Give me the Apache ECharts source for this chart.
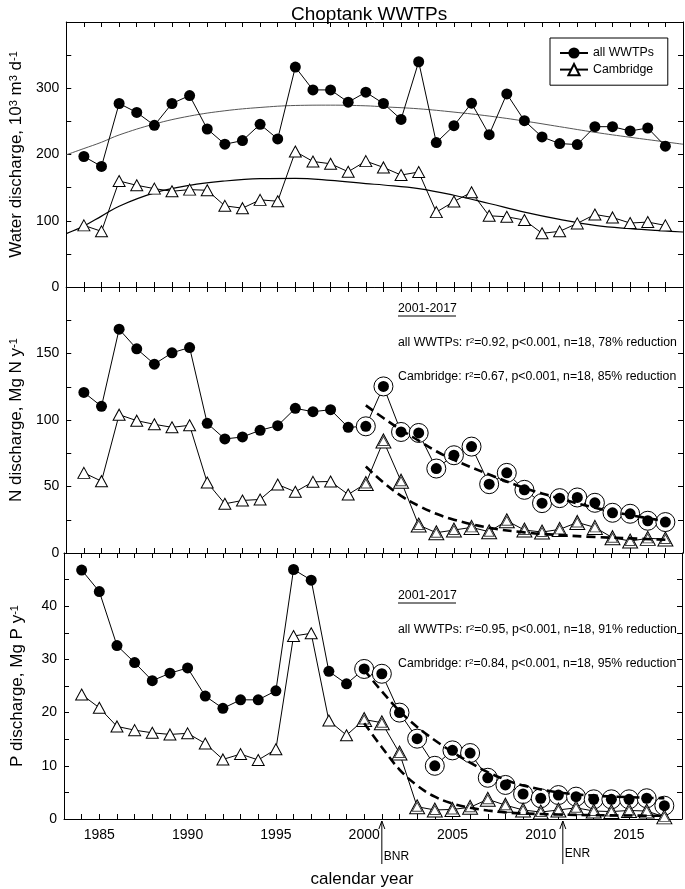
<!DOCTYPE html>
<html><head><meta charset="utf-8">
<script src="https://cdn.jsdelivr.net/npm/echarts@6/dist/echarts.min.js"></script>
<style>html,body{margin:0;padding:0;background:#fff}#c{width:685px;height:889px}</style>
</head><body><div id="c"></div>
<script>
// ---------------- data ----------------
const years = [1984,1985,1986,1987,1988,1989,1990,1991,1992,1993,1994,1995,1996,1997,1998,1999,2000,
               2001,2002,2003,2004,2005,2006,2007,2008,2009,2010,2011,2012,2013,2014,2015,2016,2017];
// Water discharge, 10^3 m3 d-1
const flowAll = [197,182,277,263.5,244,277,289,238.5,215.5,221,245.5,223.5,332,297.5,297.5,279,294,
                 277,253,340,218,243.5,277.5,230,291.5,251,226.5,216.5,215,242,242,235.5,240,212.5];
const flowCam = [93,84,160,153.5,148.5,144.5,147,146,122.5,119,131.5,129.5,204.5,189.5,186,174,190,
                 180.5,169,173.5,113,129,143,107.5,106,101,81,84,96,109.5,105,96.5,98,93];
// N discharge, Mg N y-1
const nAll = [120.75,110.25,168.25,153.5,142,150.5,154.5,97.5,85.75,87.25,92.25,95.75,108.75,106.25,107.75,94.5,95.25,
              125.25,91,90.25,63.5,73.5,80,51.75,60.25,47.5,37.5,41.25,41.75,37.75,30.25,29.5,24.25,23.25];
const nCam = [60.25,54,104,99.5,96.75,94.5,96,53,37,39.5,40.25,51.5,46,53.5,53.75,44,52.25,
              84.25,54,21,15.25,17.25,19.25,16,24.25,17.25,15.75,17.75,23,19.25,11.5,9,11,10.5];
// P discharge, Mg P y-1
const pAll = [46.8,42.75,32.6,29.4,26,27.4,28.4,23.1,20.8,22.4,22.4,24.1,46.9,44.9,27.75,25.4,28.2,
              27.3,20,15.1,10,12.9,12.4,7.75,6.4,4.7,3.9,4.5,4.2,3.7,3.7,3.7,3.9,2.5];
const pCam = [23.4,20.9,17.4,16.7,16.2,15.9,16.1,14.2,11.2,12.2,11.1,13.1,34.4,34.9,18.5,15.75,18.7,
              18.1,12.4,2.3,1.7,1.8,2.2,3.7,2.6,1.7,1.3,1.7,2.1,1.5,1.4,1.6,1.5,0.4];
// smoothed trend curves (top panel)
const flowFitYears = [1983,1984,1985,1986,1988,1990,1992,1994,1996,1998,2000,2001,2003,2005,2007,2009,2011,2013,2015,2017,2018];
const flowFitAll = [199.5,209,218.5,229.5,246,258,266,271,274,274.5,273.5,272,269,264,258,250.5,242,233.5,226,219,215.5];
const flowFitCam = [80.5,92,107,122,142,153.5,160,163.5,164,161,156,154,148.5,138.5,126,113,102,93,88,84.5,83];
// fitted decay curves 2000-2017
const nFitYears = [2000,2001,2002,2003,2004,2005,2007,2009,2011,2013,2015,2017];
const nFitAll = [111,101.5,92.5,84.5,76.5,70,59,49,41,34,28.5,24];
const nFitCam = [65,53,43,35.5,29.5,25,19,15.5,13.5,12,11,10];
const pFitYears = [2000,2001,2002,2003,2004,2005,2006,2007,2008,2009,2011,2013,2015,2017];
const pFitAll = [28,24,20.3,17.3,14.8,12.6,10.6,8.8,7.4,6.3,5,4.4,4.1,3.9];
const pFitCam = [18,13.5,9.3,6.3,4.2,2.9,2.1,1.6,1.25,1.05,0.85,0.72,0.65,0.6];
const fitStartYear = 2000;
const arrowYears = [2001, 2011.25];
const arrowLabels = ['BNR', 'ENR'];
const xTickLabels = [1985,1990,1995,2000,2005,2010,2015];
const legendNames = ['all WWTPs', 'Cambridge'];
const statsN = ['2001-2017', ['all WWTPs: r','2','=0.92, p<0.001, n=18, 78% reduction'], ['Cambridge: r','2','=0.67, p<0.001, n=18, 85% reduction']];
const statsP = ['2001-2017', ['all WWTPs: r','2','=0.95, p<0.001, n=18, 91% reduction'], ['Cambridge: r','2','=0.84, p<0.001, n=18, 95% reduction']];

// ---------------- chart ----------------
const FONT = '"Liberation Sans", Arial, Helvetica, sans-serif';
const pair = (xs, vs) => xs.map((x, i) => [x, vs[i]]);
const fromStart = (vs) => pair(years, vs).filter(d => d[0] >= fitStartYear);

const grids = [
  {left: 64, right: 2, top: 22, height: 265},
  {left: 64, right: 2, top: 287, height: 266},
  {left: 64, right: 2, top: 553, height: 266}
];
const yCfg = [
  {max: 400, step: 50, lab: 100, name: '{a|Water discharge, 10}{s|3}{a| m}{s|3}{a| d}{s|-1}'},
  {max: 200, step: 25, lab: 50, name: '{a|N discharge, Mg N y}{s|-1}'},
  {max: 50, step: 5, lab: 10, name: '{a|P discharge, Mg P y}{s|-1}'}
];

const xAxes = [], yAxes = [];
grids.forEach((g, gi) => {
  ['bottom', 'top'].forEach(pos => {
    xAxes.push({
      type: 'value', gridIndex: gi, position: pos, min: 1983, max: 2018, interval: 1,
      axisLine: {show: true, onZero: false, lineStyle: {color: '#000', width: 1}},
      axisTick: {show: true, inside: true, length: 5, lineStyle: {color: '#000', width: 1}},
      axisLabel: {show: gi === 2 && pos === 'bottom', color: '#000', fontSize: 14, fontFamily: FONT, margin: 9,
        formatter: v => xTickLabels.includes(v) ? String(v) : ''},
      splitLine: {show: false}
    });
  });
  const c = yCfg[gi];
  ['left', 'right'].forEach(pos => {
    yAxes.push({
      type: 'value', gridIndex: gi, position: pos, min: 0, max: c.max, interval: c.step,
      axisLine: {show: true, onZero: false, lineStyle: {color: '#000', width: 1}},
      axisTick: {show: true, inside: true, length: 5, lineStyle: {color: '#000', width: 1}},
      axisLabel: {show: pos === 'left', color: '#000', fontSize: 14, fontFamily: FONT, margin: 7,
        formatter: v => (v % c.lab === 0 && v < c.max) ? String(v) : ''},
      splitLine: {show: false},
      name: pos === 'left' ? c.name : '', nameLocation: 'middle', nameRotate: 90, nameGap: 38,
      nameTextStyle: {color: '#000', fontFamily: FONT, fontSize: 17,
        rich: {a: {fontSize: 17, fontFamily: FONT, color: '#000'},
               s: {fontSize: 11, fontFamily: FONT, color: '#000', verticalAlign: 'top'}}}
    });
  });
});

const series = [];
function mainLines(gi, allVals, camVals) {
  series.push({name: 'all WWTPs', type: 'line', xAxisIndex: gi*2, yAxisIndex: gi*2, z: 3,
    data: pair(years, allVals), symbol: 'circle', symbolSize: 11, showAllSymbol: true,
    itemStyle: {color: '#000', opacity: 1}, lineStyle: {color: '#000', width: 1}, emphasis: {disabled: true}, animation: false});
  series.push({name: 'Cambridge', type: 'line', xAxisIndex: gi*2, yAxisIndex: gi*2, z: 3,
    data: pair(years, camVals), symbol: 'triangle', symbolSize: [12, 11], showAllSymbol: true,
    itemStyle: {color: '#fff', borderColor: '#000', borderWidth: 1, opacity: 1}, lineStyle: {color: '#000', width: 1},
    emphasis: {disabled: true}, animation: false});
}
function fitLine(gi, xs, vs, style, z) {
  series.push({name: 'fit', type: 'line', xAxisIndex: gi*2, yAxisIndex: gi*2, z: z || 2,
    data: pair(xs, vs), showSymbol: false, smooth: 0.4, lineStyle: style, emphasis: {disabled: true}, animation: false, silent: true});
}
function highlights(gi, allVals, camVals) {
  const sc = (name, vals, z, symbol, size, style) => series.push({name: name, type: 'scatter', xAxisIndex: gi*2, yAxisIndex: gi*2, z: z,
    data: fromStart(vals), symbol: symbol, symbolSize: size, itemStyle: Object.assign({opacity: 1}, style),
    emphasis: {disabled: true}, animation: false, silent: true});
  sc('ring', allVals, 4, 'circle', 19, {color: '#fff', borderColor: '#000', borderWidth: 1});
  sc('dot', allVals, 5, 'circle', 11, {color: '#000'});
  sc('tri2', camVals, 6, 'triangle', [15, 14], {color: '#fff', borderColor: '#000', borderWidth: 1});
  sc('tri1', camVals, 7, 'triangle', [10, 9], {color: '#fff', borderColor: '#444', borderWidth: 1});
}
// top panel
fitLine(0, flowFitYears, flowFitAll, {color: '#555', width: 1});
fitLine(0, flowFitYears, flowFitCam, {color: '#000', width: 1.2});
mainLines(0, flowAll, flowCam);
// N panel
const dash = {color: '#000', width: 2.6, type: [9, 5]};
mainLines(1, nAll, nCam);
highlights(1, nAll, nCam);
fitLine(1, nFitYears, nFitAll, dash, 8);
fitLine(1, nFitYears, nFitCam, dash, 8);
// P panel
mainLines(2, pAll, pCam);
highlights(2, pAll, pCam);
fitLine(2, pFitYears, pFitAll, dash, 8);
fitLine(2, pFitYears, pFitCam, dash, 8);

function statText(x, y, parts) {
  return {type: 'text', x: x, y: y, z: 100, silent: true,
    style: {text: '{t|' + parts[0] + '}{s|' + parts[1] + '}{t|' + parts[2] + '}',
      rich: {t: {fontSize: 12.3, fontFamily: FONT, fill: '#000'}, s: {fontSize: 8, fontFamily: FONT, fill: '#000', verticalAlign: 'top'}},
      verticalAlign: 'middle', fill: '#000'}};
}
function statBlock(x, y0, st) {
  return [
    {type: 'text', x: x, y: y0, z: 100, silent: true, style: {text: st[0], fontSize: 12.3, fontFamily: FONT, fill: '#000', verticalAlign: 'middle'}},
    {type: 'line', z: 100, silent: true, shape: {x1: x, y1: y0 + 7, x2: x + 58, y2: y0 + 7}, style: {stroke: '#000', lineWidth: 1}},
    statText(x, y0 + 34, st[1]),
    statText(x, y0 + 68, st[2])
  ];
}

const chart = echarts.init(document.getElementById('c'), null, {renderer: 'canvas'});
chart.setOption({
  animation: false,
  backgroundColor: '#fff',
  title: {text: 'Choptank WWTPs', left: 286, top: 0, textStyle: {fontFamily: FONT, fontSize: 19, fontWeight: 'normal', color: '#000'}},
  legend: {data: legendNames, left: 550, top: 38, orient: 'vertical', itemWidth: 28, itemHeight: 14, itemGap: 4,
    padding: [9, 14, 9, 9], borderColor: '#000', borderWidth: 1, backgroundColor: '#fff', z: 50,
    textStyle: {fontFamily: FONT, fontSize: 12.3, color: '#000'}, selectedMode: false},
  grid: grids,
  xAxis: xAxes,
  yAxis: yAxes,
  series: series,
  graphic: [].concat(statBlock(398, 309, statsN), statBlock(398, 596, statsP), [
    {type: 'text', x: 362, y: 879, z: 100, style: {text: 'calendar year', fontSize: 17, fontFamily: FONT, fill: '#000', align: 'center', verticalAlign: 'middle'}}
  ])
});
// arrows under the x axis
const gextra = [];
arrowYears.forEach((yr, i) => {
  const px = chart.convertToPixel({xAxisIndex: 4}, yr);
  gextra.push({type: 'line', z: 100, silent: true, shape: {x1: px, y1: 864, x2: px, y2: 821}, style: {stroke: '#000', lineWidth: 1}});
  gextra.push({type: 'polyline', z: 100, silent: true, shape: {points: [[px - 3, 829], [px, 821], [px + 3, 829]]}, style: {stroke: '#000', lineWidth: 1, fill: null}});
  gextra.push({type: 'text', z: 100, silent: true, x: px + 2, y: i === 0 ? 857 : 854, style: {text: arrowLabels[i], fontSize: 12, fontFamily: FONT, fill: '#000', verticalAlign: 'middle'}});
});
const opt = chart.getOption();
chart.setOption({graphic: opt.graphic[0].elements.map(e => e).concat(gextra)});
</script>
</body></html>
